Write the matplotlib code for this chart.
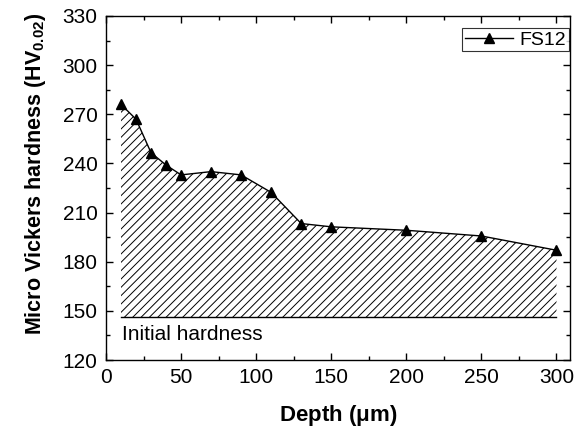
import matplotlib
matplotlib.use("Agg")
import matplotlib.pyplot as plt
from matplotlib.ticker import MultipleLocator

plt.rcParams['font.family'] = ['Liberation Sans', 'DejaVu Sans']
plt.rcParams['mathtext.fontset'] = 'custom'
plt.rcParams['mathtext.rm'] = 'Liberation Sans:bold'
plt.rcParams['mathtext.bf'] = 'Liberation Sans:bold'
plt.rcParams['hatch.linewidth'] = 0.7

depth = [10, 20, 30, 40, 50, 70, 90, 110, 130, 150, 200, 250, 300]
hardness = [276, 267, 246.5, 239, 233, 235, 233, 222.3, 203.3, 201.3, 199.2, 195.7, 187]
initial_hardness = 146
series_label = "FS12"

fig = plt.figure(figsize=(5.79, 4.28), dpi=100)
ax = fig.add_axes([106/579, 1-360/428, (570-106)/579, (360-16)/428])

ax.fill_between(depth, initial_hardness, hardness, facecolor='none',
                edgecolor='black', hatch='////', linewidth=0)
ax.plot([depth[0], depth[-1]], [initial_hardness, initial_hardness], color='black', lw=1)
ax.plot(depth, hardness, color='black', lw=1, marker='^', markersize=7.5, label=series_label)

ax.text(10.5, 135.5, "Initial hardness", fontsize=15, ha='left', va='center')

ax.set_xlim(0, 309)
ax.set_ylim(120, 330)
ax.xaxis.set_major_locator(MultipleLocator(50))
ax.xaxis.set_minor_locator(MultipleLocator(25))
ax.yaxis.set_major_locator(MultipleLocator(30))
ax.yaxis.set_minor_locator(MultipleLocator(15))
ax.tick_params(which='both', direction='in', top=True, right=True, labelsize=15)
ax.tick_params(which='major', length=5, width=1, pad=6)
ax.tick_params(which='minor', length=3, width=1)
for s in ax.spines.values():
    s.set_linewidth(1)

ax.set_xlabel(r"Depth ($\mathbf{\mu}$m)", fontsize=16, fontweight='bold', labelpad=11)
ax.set_ylabel(r"Micro Vickers hardness (HV$_{\mathbf{0.02}}$)", fontsize=15.5, fontweight='bold')
ax.yaxis.set_label_coords(-0.125, 0.54)

leg = ax.legend(loc='upper right', fontsize=14, frameon=True, fancybox=False,
                handlelength=2.5, handletextpad=0.3, borderpad=0.15,
                bbox_to_anchor=(0.997, 0.965), borderaxespad=0)
leg.get_frame().set_edgecolor('black')
leg.get_frame().set_linewidth(0.8)

fig.savefig("out.png", dpi=100)
